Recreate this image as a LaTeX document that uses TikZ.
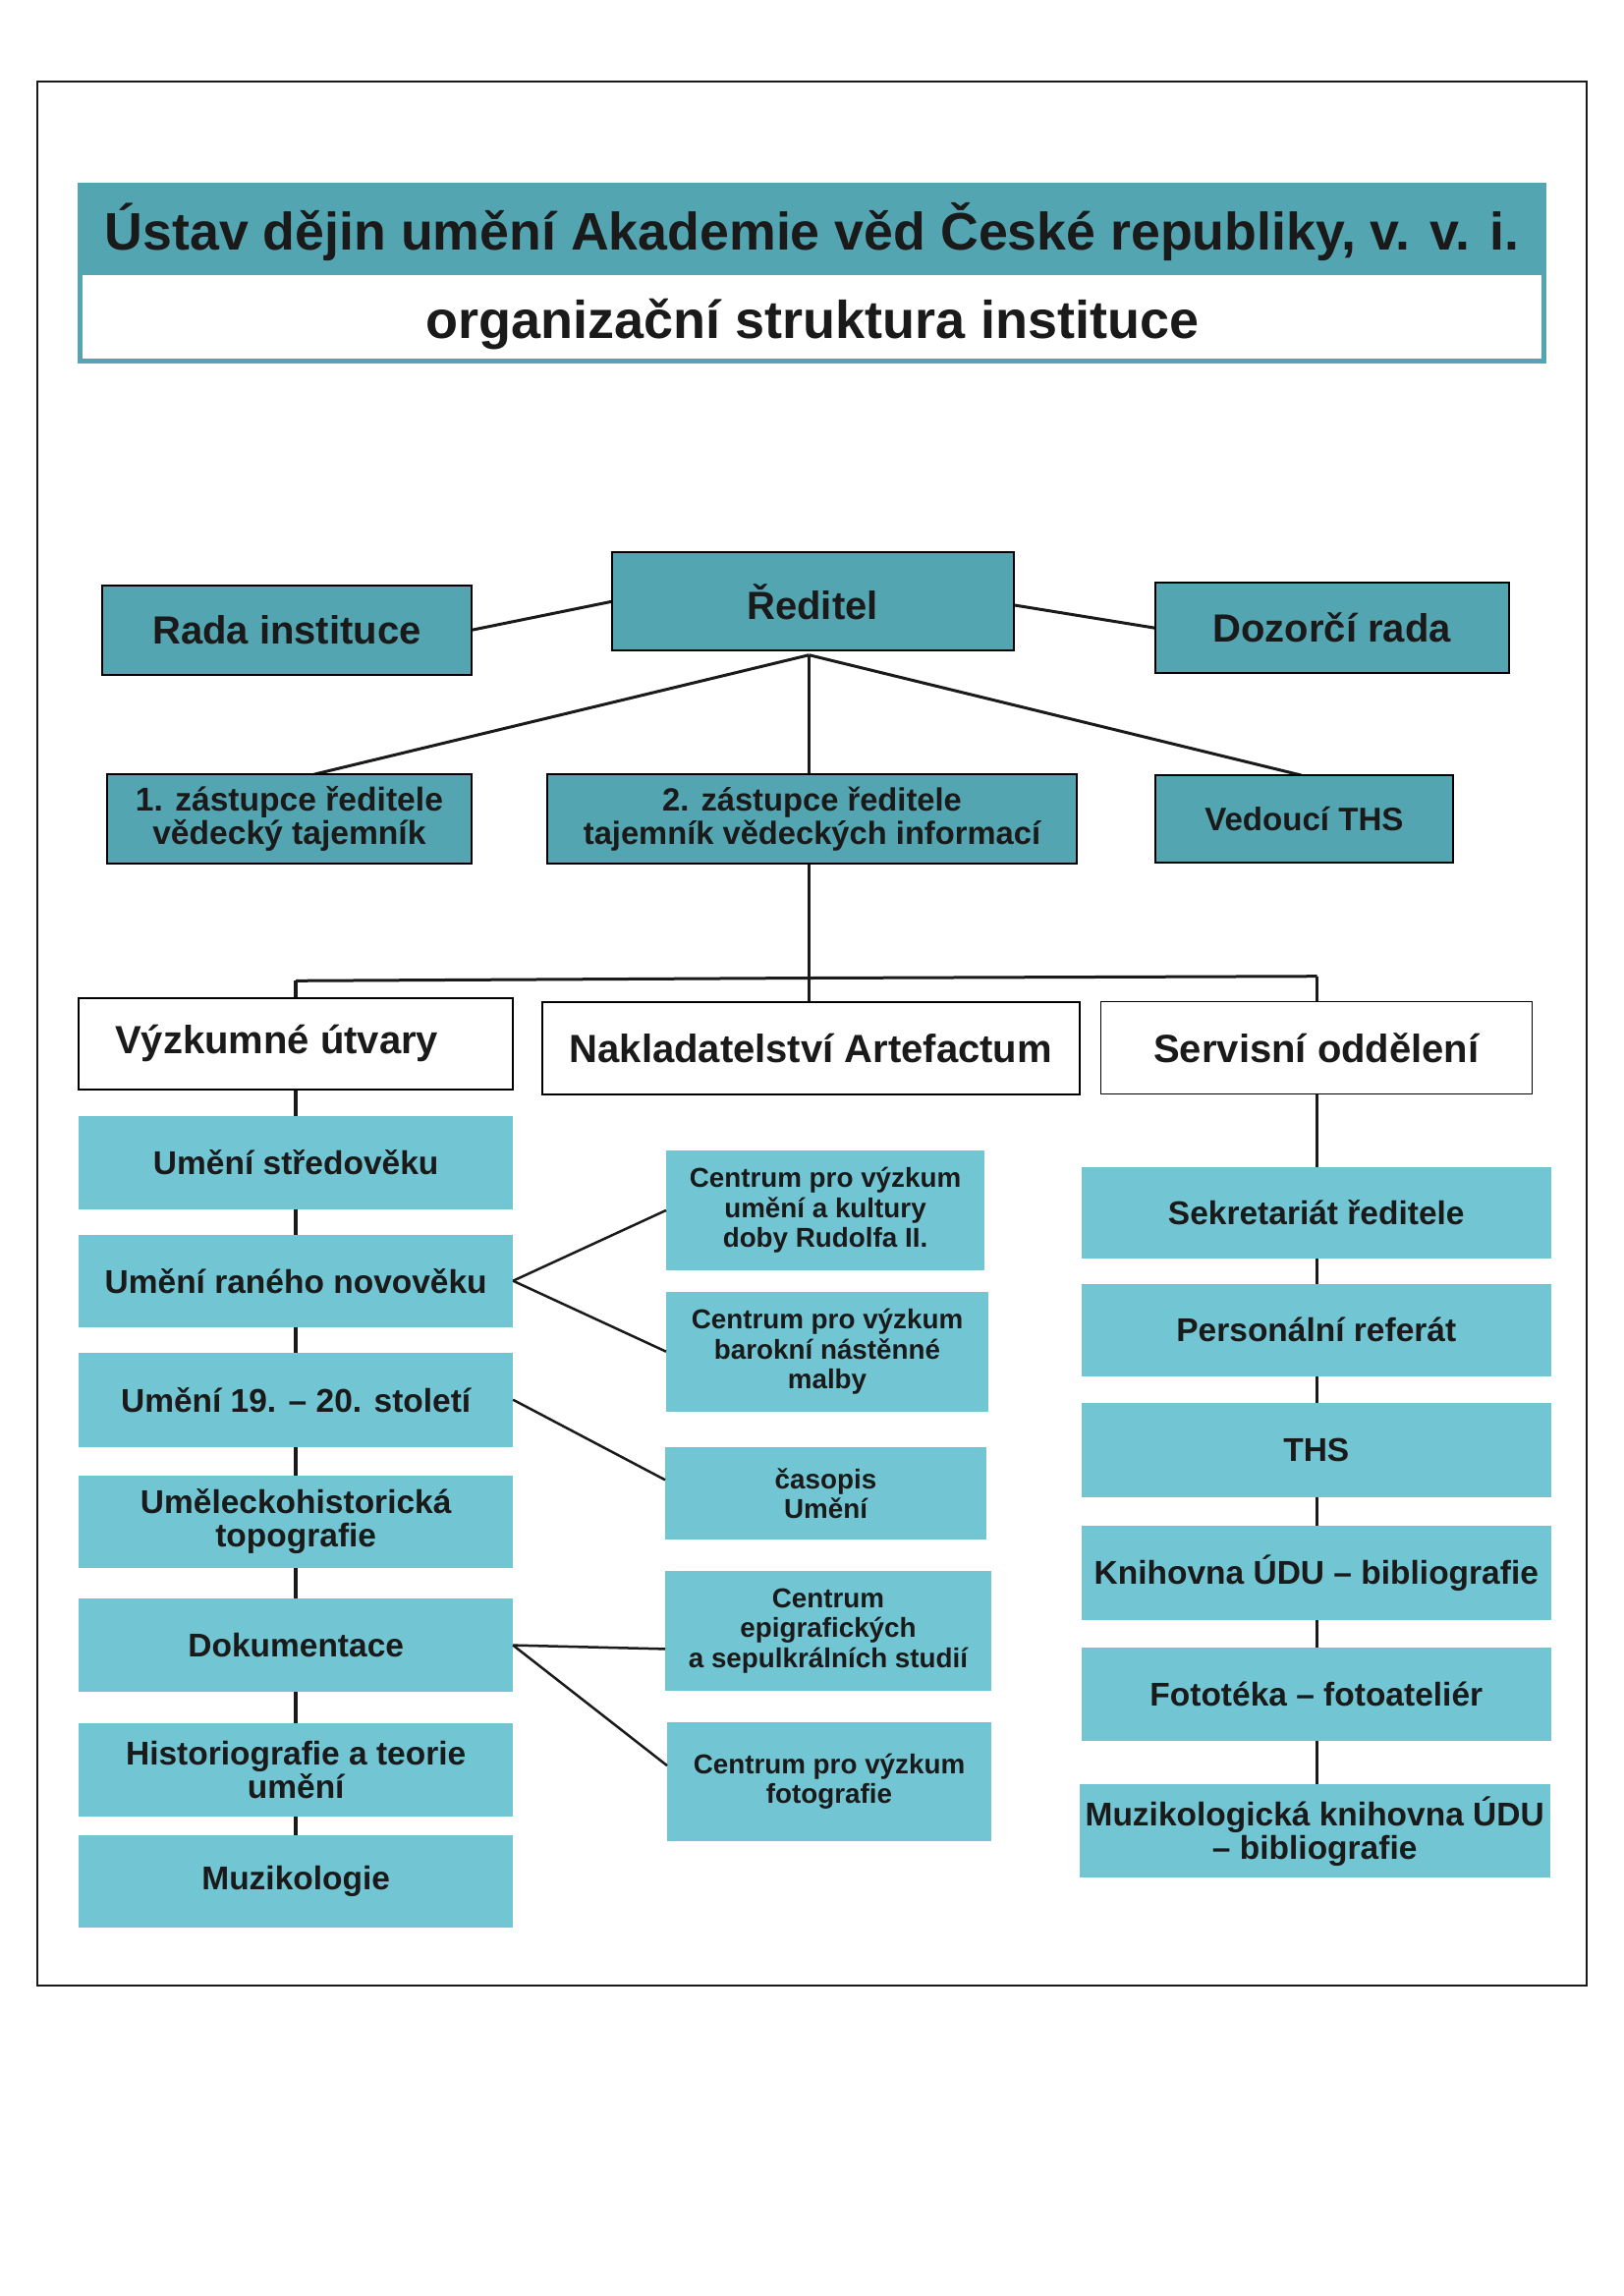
\documentclass[tikz,border=0pt]{standalone}
\usepackage{fontspec}
\setmainfont{Liberation Sans}
\usetikzlibrary{backgrounds,calc}
\definecolor{tealD}{RGB}{83,165,177}
\definecolor{tealL}{RGB}{114,198,211}
\definecolor{txt}{RGB}{26,26,26}
\begin{document}
\begin{tikzpicture}[x=1pt,y=-1pt,
  sz/.style 2 args={minimum width=#1pt, minimum height=#2pt},
  box/.style={inner sep=0pt, outer sep=0pt, align=center, text=txt},
  fA/.style={font=\fontsize{40}{40}\selectfont\bfseries},
  fB/.style={font=\fontsize{#1}{34}\selectfont\bfseries},
  topbox/.style={box, draw=black, line width=2pt, fill=tealD},
  whitebox/.style={box, draw=black, line width=1.5pt, fill=white, fA},
  lightbox/.style={box, fill=tealL, font=\fontsize{33.5}{34}\selectfont\bfseries},
  midbox/.style={box, fill=tealL, font=\fontsize{27.8}{30.5}\selectfont\bfseries},
  conn/.style={line width=3pt, draw=txt},
  thinconn/.style={line width=2.5pt, draw=txt},
  colline/.style={line width=3.5pt, draw=txt},
  titlefont/.style={font=\fontsize{#1}{#1}\selectfont\bfseries, text=txt, inner sep=0pt}
]
\useasboundingbox (0,0) rectangle (1653,2337);
% outer frame
\draw[line width=2pt, draw=txt] (38.3,83) rectangle (1615,2021);
% title block
\fill[tealD] (79,186) rectangle (1574,277.7);
\draw[tealD, line width=5pt] (81.5,277.7) rectangle (1571.5,367.5);
\node[titlefont=53.7, anchor=base] (title) at (826.5,254) {Ústav dějin umění Akademie věd České republiky, v. v. i.};
\node[titlefont=54, anchor=base] (subtitle) at (827,344) {organizační struktura instituce};

% top level
\node[topbox, fA, sz={409}{100}] (reditel) at (827,612.3) {Ředitel};
\node[topbox, fA, sz={376}{91.5}] (rada) at (292,641.3) {Rada instituce};
\node[topbox, fA, sz={360}{91.7}] (dozorci) at (1355.6,639.2) {Dozorčí rada};
\node[topbox, fB=33.6, sz={371.3}{91}] (z1) at (294.4,833.8) {1. zástupce ředitele\\vědecký tajemník};
\node[topbox, fB=32.7, sz={539.7}{91}] (z2) at (826.5,833.8) {2. zástupce ředitele\\tajemník vědeckých informací};
\node[topbox, fB=33.1, sz={303.3}{89.3}] (vedouci) at (1327.4,833.7) {Vedoucí THS};
\coordinate (j) at (823.5,666.7);

% white section headers
\node[whitebox, sz={442}{93}] (vyzk) at (301.2,1062.3) {Výzkumné útvary\kern39pt};
\node[whitebox, sz={547}{94}] (nakl) at (825.3,1066.8) {Nakladatelství Artefactum};
\node[whitebox, sz={439}{94}] (serv) at (1339.9,1066.4) {Servisní oddělení};
\coordinate (bl) at (301.2,998.3);
\coordinate (bm) at (823.5,995.5);
\coordinate (br) at (1340.5,993.7);

% left column
\node[lightbox, sz={442}{94.4}] (l1) at (301.2,1183.3) {Umění středověku};
\node[lightbox, sz={442}{94.4}] (l2) at (301.2,1303.7) {Umění raného novověku};
\node[lightbox, sz={442}{95.6}] (l3) at (301.2,1424.7) {Umění 19. – 20. století};
\node[lightbox, sz={442}{94.3}] (l4) at (301.2,1549) {Uměleckohistorická\\topografie};
\node[lightbox, sz={442}{94.3}] (l5) at (301.2,1674.6) {Dokumentace};
\node[lightbox, sz={442}{95}] (l6) at (301.2,1801.7) {Historiografie a teorie\\umění};
\node[lightbox, sz={442}{94.3}] (l7) at (301.2,1915.3) {Muzikologie};

% middle column
\node[midbox, sz={324}{122.2}] (m1) at (840,1231.9) {Centrum pro výzkum\\umění a kultury\\doby Rudolfa II.};
\node[midbox, sz={328}{121.7}] (m2) at (842,1375.7) {Centrum pro výzkum\\barokní nástěnné\\malby};
\node[midbox, sz={327}{94.5}] (m3) at (840.5,1520) {časopis\\Umění};
\node[midbox, sz={332}{121.6}] (m4) at (843,1659.7) {Centrum\\epigrafických\\a sepulkrálních studií};
\node[midbox, sz={330}{121.2}] (m5) at (844,1813.1) {Centrum pro výzkum\\fotografie};

% right column
\node[lightbox, sz={477.6}{93.3}] (r1) at (1339.8,1234.6) {Sekretariát ředitele};
\node[lightbox, sz={477.6}{93.9}] (r2) at (1339.8,1353.7) {Personální referát};
\node[lightbox, sz={477.6}{95.7}] (r3) at (1339.8,1475.8) {THS};
\node[lightbox, sz={477.6}{95.2}] (r4) at (1339.8,1600.9) {Knihovna ÚDU – bibliografie};
\node[lightbox, sz={477.6}{94.5}] (r5) at (1339.8,1724.3) {Fototéka – fotoateliér};
\node[lightbox, sz={478.7}{94.5}] (r6) at (1338.2,1863.7) {Muzikologická knihovna ÚDU\\– bibliografie};

\begin{pgfonlayer}{background}
  \draw[conn] (rada.east) -- (reditel.west);
  \draw[conn] ($(reditel.east)+(0,3.5)$) -- (dozorci.west);
  \draw[conn] (j) -- ($(z1.north)+(24.8,0)$);
  \draw[conn] (j) -- ($(vedouci.north)+(-3,0)$);
  \draw[thinconn] (j) -- (nakl.north -| j);
  \draw[line width=3pt, draw=txt] (bl) -- (bm) -- (br);
  \draw[colline, line width=4pt] (bl) -- (l7.north -| bl);
  \draw[colline, line width=3pt] (br) -- (r6.north -| br);
\end{pgfonlayer}

% links to centres
\draw[thinconn] (l2.east) -- (m1.west);
\draw[thinconn] (l2.east) -- (m2.west);
\draw[thinconn] (l3.east) -- ($(m3.west)+(0,-13.7)$);
\draw[thinconn] (l5.east) -- ($(m4.west)+(0,18.7)$);
\draw[thinconn] (l5.east) -- ($(m5.west)+(0,-16)$);
\end{tikzpicture}
\end{document}
